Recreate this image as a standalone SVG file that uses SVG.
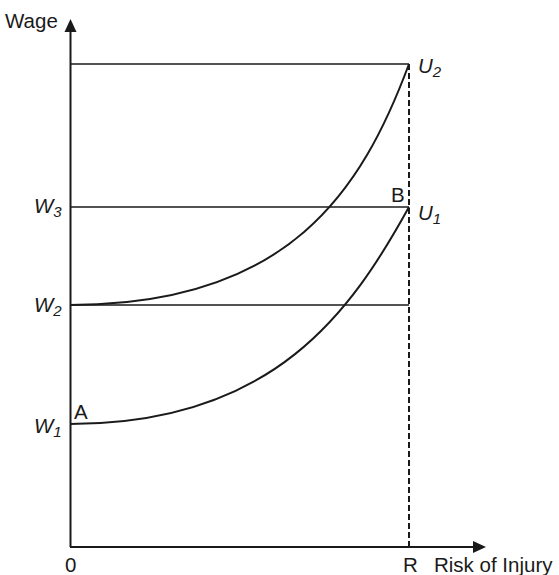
<svg xmlns="http://www.w3.org/2000/svg" width="559" height="575" viewBox="0 0 559 575">
<style>
.ax{stroke:#1a1a1a;stroke-width:2;fill:none}
.hl{stroke:#1a1a1a;stroke-width:1.4;fill:none}
.cv{stroke:#1a1a1a;stroke-width:2;fill:none}
.dl{stroke:#1a1a1a;stroke-width:2;fill:none;stroke-dasharray:6 3}
text{font-family:"Liberation Sans",Arial,sans-serif;font-size:20.5px;fill:#1a1a1a}
.it{font-style:italic}
.sub{font-size:15px}
</style>
<rect width="559" height="575" fill="#fff"/>
<g id="connectors">
<line class="ax" x1="70.5" y1="547" x2="70.5" y2="30"/>
<polygon points="70.5,19 64.5,32 76.5,32" fill="#1a1a1a"/>
<line class="ax" x1="70" y1="547" x2="476" y2="547"/>
<polygon points="486,547 473,541 473,553" fill="#1a1a1a"/>
<line class="hl" x1="70" y1="64" x2="409" y2="64"/>
<line class="hl" x1="70" y1="207" x2="409" y2="207"/>
<line class="hl" x1="70" y1="305" x2="409" y2="305"/>
<line class="dl" x1="409" y1="64" x2="409" y2="547"/>
<path class="cv" d="M70,424 C275,424 352,310 409,207"/>
<path class="cv" d="M70,305 C290,305 362,190 409,64"/>
</g>
<g id="axis-labels">
<text x="5" y="28">Wage</text>
<text x="65" y="572">0</text>
<text x="403" y="572">R</text>
<text x="434" y="572">Risk of Injury</text>
</g>
<g id="W3"><text class="it" x="34" y="213">W<tspan class="sub" dy="4">3</tspan></text></g>
<g id="W2"><text class="it" x="34" y="312">W<tspan class="sub" dy="4">2</tspan></text></g>
<g id="W1"><text class="it" x="34" y="433">W<tspan class="sub" dy="4">1</tspan></text></g>
<g id="A"><text x="74" y="419">A</text></g>
<g id="B"><text x="391" y="202">B</text></g>
<g id="U2"><text class="it" x="418" y="73">U<tspan class="sub" dy="4">2</tspan></text></g>
<g id="U1"><text class="it" x="418" y="220">U<tspan class="sub" dy="4">1</tspan></text></g>
</svg>
